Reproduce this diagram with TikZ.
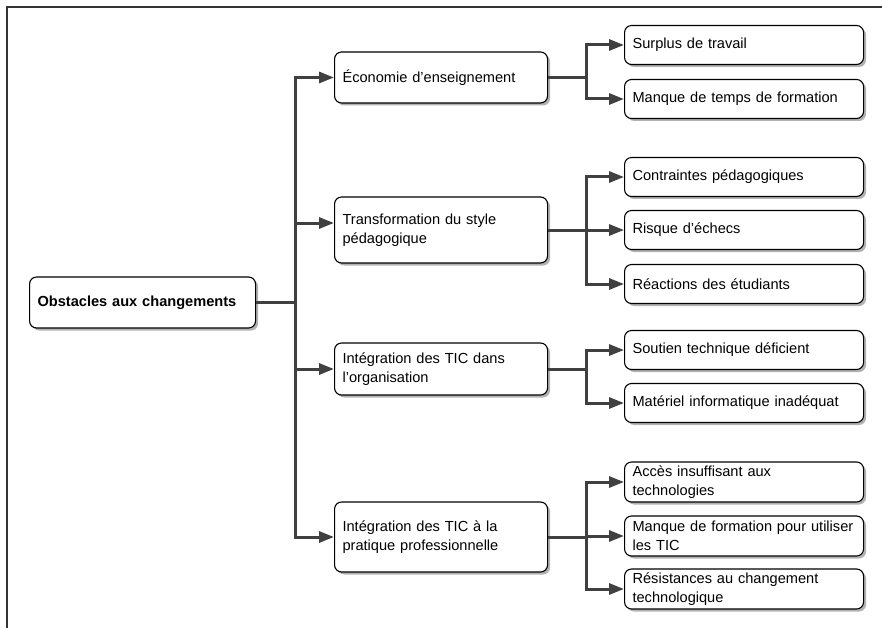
\documentclass[tikz,border=0pt]{standalone}
\usepackage{fontspec}
\setmainfont{Liberation Sans}
\usetikzlibrary{arrows.meta,shadows}
\begin{document}
\begin{tikzpicture}[x=1pt,y=-1pt,
  box/.style={draw=black, line width=1.1pt, rounded corners=7pt, fill=white, align=left, anchor=west,
    inner xsep=8pt, inner ysep=2pt, font=\fontsize{14.6}{19}\selectfont,
    drop shadow={shadow xshift=2.5pt, shadow yshift=-2.5pt, fill=black, opacity=0.3}},
  rootbox/.style={box, text width=210pt, minimum height=51pt, font=\fontsize{14.6}{19}\selectfont\bfseries},
  lone/.style={box, text width=197pt},
  ltwo/.style={box, text width=223pt, minimum height=39pt},
  line/.style={draw=black!75, line width=3pt, line join=miter},
  conn/.style={line, -{Triangle[length=15pt,width=11pt]}},
]
\useasboundingbox (0,0) rectangle (882,628);
\draw[line width=2.5pt, black!80] (882,7) -- (7,7) -- (7,628);

% root
\node[rootbox] (r) at (29,302.5) {Obstacles aux changements};

% level 1
\node[lone, minimum height=51pt] (e) at (334,77.5) {Économie d’enseignement};
\node[lone, minimum height=66pt] (tr) at (334,230) {Transformation du style\\pédagogique};
\node[lone, minimum height=52pt] (o) at (334,369) {Intégration des TIC dans\\l’organisation};
\node[lone, minimum height=70pt] (p) at (334,537) {Intégration des TIC à la\\pratique professionnelle};

% level 2
\node[ltwo] (a1) at (624,45) {Surplus de travail};
\node[ltwo] (a2) at (624,99) {Manque de temps de formation};
\node[ltwo] (b1) at (624,177) {Contraintes pédagogiques};
\node[ltwo] (b2) at (624,230) {Risque d’échecs};
\node[ltwo] (b3) at (624,284) {Réactions des étudiants};
\node[ltwo] (c1) at (624,350) {Soutien technique déficient};
\node[ltwo] (c2) at (624,403) {Matériel informatique inadéquat};
\node[ltwo, minimum height=40pt] (d1) at (624,482) {Accès insuffisant aux\\technologies};
\node[ltwo, minimum height=40pt] (d2) at (624,536) {Manque de formation pour utiliser\\les TIC};
\node[ltwo, minimum height=40pt] (d3) at (624,589) {Résistances au changement\\technologique};

% trunk
\coordinate (t) at (295,302.5);
\draw[line] (r.east) -- (t);
\draw[conn] (t) |- (e.west);
\draw[conn] (t) |- ([yshift=7pt]tr.west);
\draw[conn] (t) |- (o.west);
\draw[conn] (t) |- (p.west);

% branches
\draw[conn] (e.east) -- ++(38,0) |- (a1.west);
\draw[conn] (e.east) -- ++(38,0) |- (a2.west);
\draw[conn] (tr.east) -- ++(38,0) |- (b1.west);
\draw[conn] (tr.east) -- (b2.west);
\draw[conn] (tr.east) -- ++(38,0) |- (b3.west);
\draw[conn] (o.east) -- ++(38,0) |- (c1.west);
\draw[conn] (o.east) -- ++(38,0) |- (c2.west);
\draw[conn] (p.east) -- ++(38,0) |- (d1.west);
\draw[conn] (p.east) -- ++(38,0) |- (d2.west);
\draw[conn] (p.east) -- ++(38,0) |- (d3.west);
\end{tikzpicture}
\end{document}
